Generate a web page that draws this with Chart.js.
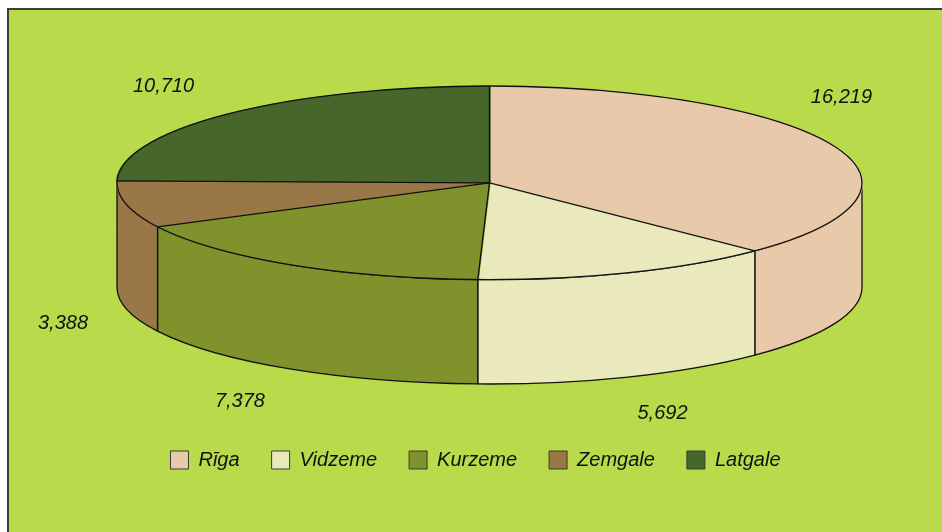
<!DOCTYPE html>
<html>
<head>
<meta charset="utf-8">
<script src="https://cdn.jsdelivr.net/npm/chart.js@4"></script>
<style>
html, body { margin: 0; padding: 0; background: #fff; overflow: hidden; }
.frame { position: absolute; left: 7px; top: 8px; width: 960px; height: 560px; background: #b8da4b; border: 2px solid #3d3d3d; }
#pie { position: absolute; left: 0; top: 0; }
</style>
</head>
<body>
<div class="frame"></div>
<canvas id="pie" width="942" height="532"></canvas>
<script>
const regions = ['Rīga', 'Vidzeme', 'Kurzeme', 'Zemgale', 'Latgale'];
const values = [16219, 5692, 7378, 3388, 10710];
const colors = ['#e8c9aa', '#e9e9bc', '#7f922b', '#9a7746', '#46662b'];

const tilt = 0.26;       // ry / rx of the top face
const depthRatio = 0.28; // height of the side wall / rx
const labelGap = 26;     // space between a label and the pie
const legendShift = -14;
const edge = '#111';

function ellipseOf(chart) {
    const a = chart.chartArea;
    const rx = (a.right - a.left) / 2;
    return { cx: (a.left + a.right) / 2, cy: a.top + rx * tilt, rx, ry: rx * tilt, depth: rx * depthRatio };
}

function halfHeightAt(e, x) {
    const u = (x - e.cx) / e.rx;
    return u * u >= 1 ? 0 : e.ry * Math.sqrt(1 - u * u);
}

const pie3d = {
    id: 'pie3d',
    afterLayout(chart) {
        chart.legend.left += legendShift;
        chart.legend.right += legendShift;
    },
    beforeDatasetsDraw(chart) {
        const ctx = chart.ctx;
        const e = ellipseOf(chart);
        const arcs = chart.getDatasetMeta(0).data;

        // side walls, only the front half (canvas angles 0..PI) is visible
        ctx.save();
        ctx.lineWidth = 1.3;
        ctx.strokeStyle = edge;
        arcs.forEach((arc, i) => {
            [-2 * Math.PI, 0, 2 * Math.PI].forEach(off => {
                const a0 = Math.max(arc.startAngle, off);
                const a1 = Math.min(arc.endAngle, off + Math.PI);
                if (a1 <= a0) return;
                ctx.beginPath();
                ctx.ellipse(e.cx, e.cy, e.rx, e.ry, 0, a0, a1);
                ctx.ellipse(e.cx, e.cy + e.depth, e.rx, e.ry, 0, a1, a0, true);
                ctx.closePath();
                ctx.fillStyle = colors[i];
                ctx.fill();
                ctx.stroke();
            });
        });
        ctx.restore();

        // squash the flat pie onto the top face
        const arc = arcs[0];
        ctx.save();
        ctx.translate(e.cx, e.cy);
        ctx.scale(e.rx / arc.outerRadius, e.ry / arc.outerRadius);
        ctx.translate(-arc.x, -arc.y);
    },
    afterDatasetsDraw(chart) {
        const ctx = chart.ctx;
        ctx.restore();
        const e = ellipseOf(chart);
        const arcs = chart.getDatasetMeta(0).data;

        ctx.save();
        ctx.lineWidth = 1.3;
        ctx.strokeStyle = edge;
        ctx.beginPath();
        ctx.ellipse(e.cx, e.cy, e.rx, e.ry, 0, 0, 2 * Math.PI);
        ctx.stroke();
        arcs.forEach(arc => {
            ctx.beginPath();
            ctx.moveTo(e.cx, e.cy);
            ctx.lineTo(e.cx + e.rx * Math.cos(arc.startAngle), e.cy + e.ry * Math.sin(arc.startAngle));
            ctx.stroke();
        });

        // value labels outside the slices
        ctx.font = 'italic 20px "Liberation Sans", Arial, sans-serif';
        ctx.fillStyle = edge;
        ctx.textAlign = 'center';
        ctx.textBaseline = 'middle';
        arcs.forEach((arc, i) => {
            const mid = (arc.startAngle + arc.endAngle) / 2;
            const c = Math.cos(mid), s = Math.sin(mid);
            const text = values[i].toLocaleString('en-US');
            const w = ctx.measureText(text).width;
            let x = e.cx + c * e.rx * 1.25;
            let y = e.cy + s * e.ry * 1.4 + (s > 0 ? e.depth : 0);
            x = Math.min(Math.max(x, w / 2 + 38), e.cx + e.rx + 10 - w / 2);
            // keep the text box clear of the pie
            const near = x > e.cx ? x - w / 2 : x + w / 2;
            const h = halfHeightAt(e, near);
            if (s < 0) y = Math.min(y, e.cy - h - labelGap - 10);
            else y = Math.max(y, e.cy + e.depth + h + labelGap + 10);
            ctx.fillText(text, x, y);
        });
        ctx.restore();
    }
};

const baseLabels = (Chart.overrides.pie || Chart.overrides.doughnut).plugins.legend.labels.generateLabels;

new Chart(document.getElementById('pie'), {
    type: 'pie',
    data: {
        labels: regions,
        datasets: [{
            data: values,
            backgroundColor: colors,
            borderColor: colors,
            borderWidth: 1,
            clip: false
        }]
    },
    options: {
        responsive: false,
        animation: false,
        layout: { padding: { left: 117, right: 80, top: 86, bottom: 52 } },
        plugins: {
            tooltip: { enabled: false },
            legend: {
                position: 'bottom',
                labels: {
                    boxWidth: 18,
                    boxHeight: 18,
                    padding: 32,
                    color: edge,
                    font: { size: 20, style: 'italic', family: '"Liberation Sans", Arial, sans-serif' },
                    generateLabels(chart) {
                        return baseLabels(chart).map(item => Object.assign(item, { strokeStyle: '#3a3a3a', lineWidth: 1 }));
                    }
                }
            }
        }
    },
    plugins: [pie3d]
});
</script>
</body>
</html>
